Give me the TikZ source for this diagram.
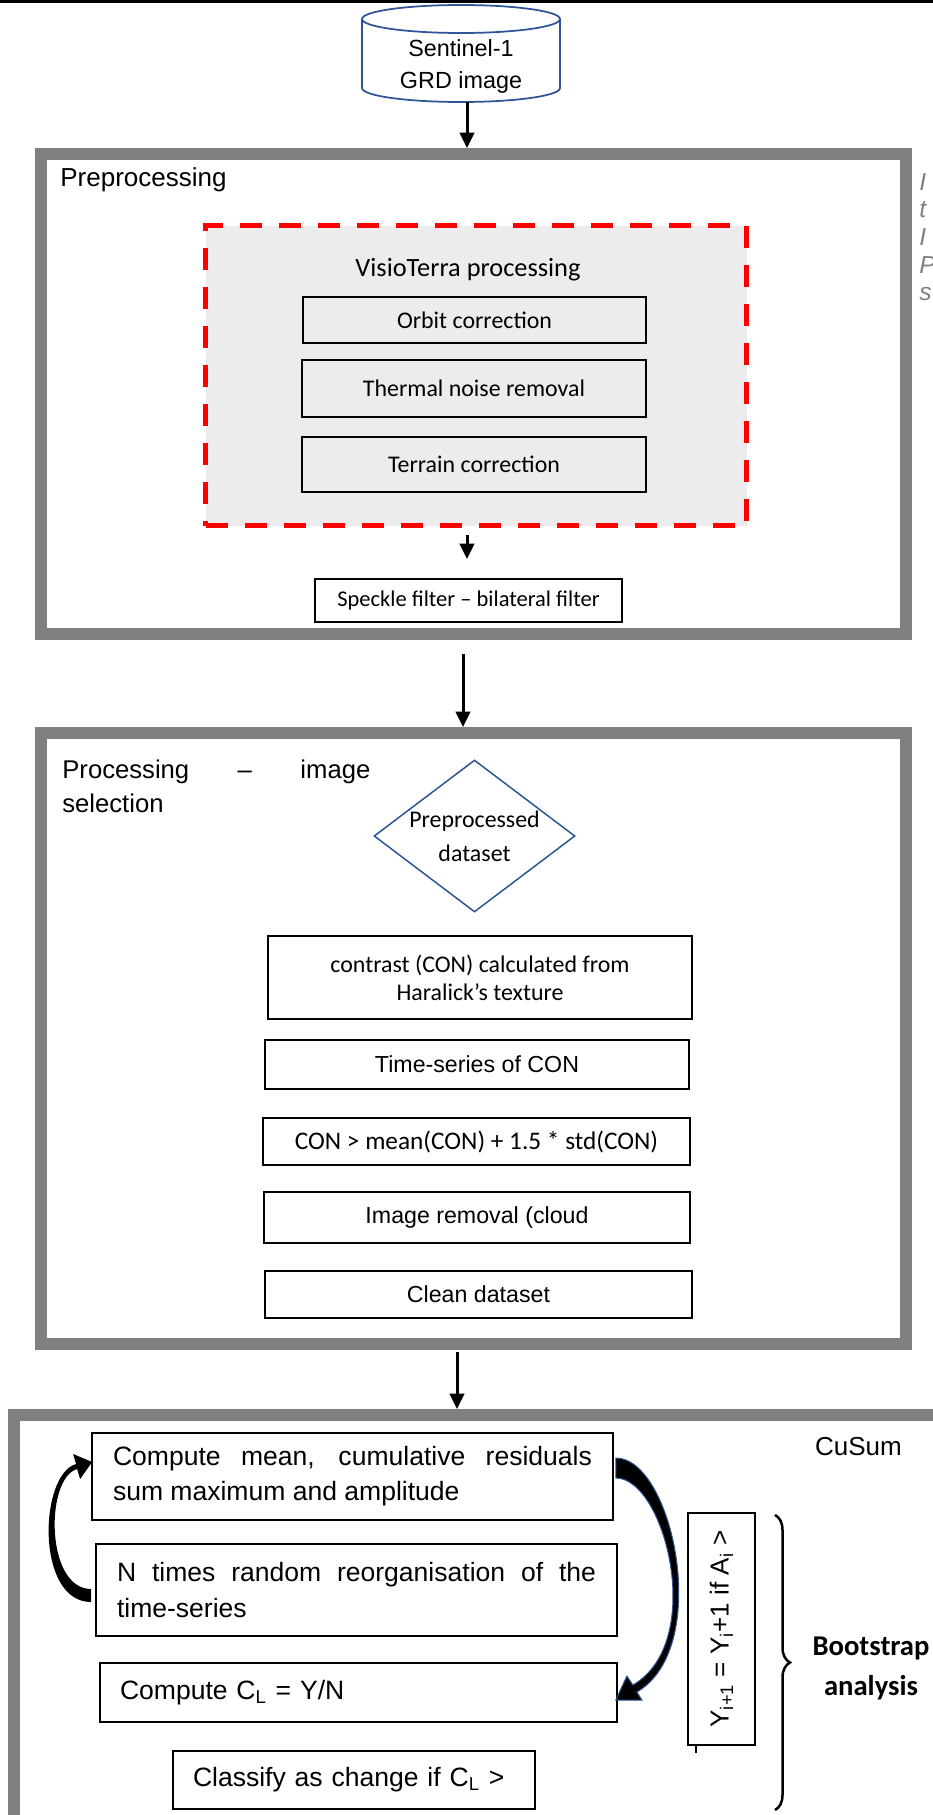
\documentclass[tikz,border=0pt]{standalone}
\usepackage{fontspec}
\setmainfont{Liberation Sans}
\newfontfamily\carlito{Carlito}
\usetikzlibrary{shapes.geometric, arrows.meta, calc, decorations.pathreplacing}
\definecolor{wordblue}{RGB}{47,85,151}
\definecolor{vtgrey}{RGB}{236,236,236}

\begin{document}
\begin{tikzpicture}[>={Triangle[width=0.29cm, length=0.31cm]}]

\tikzstyle stage=[draw=gray, line width=0.24cm, fill=white]
\tikzstyle cyl=[draw=wordblue, line width=0.035cm, fill=white]
\tikzstyle inbox=[draw, line width=0.035cm, font=\carlito\fontsize{13.6}{16}\selectfont]
\tikzstyle arbox=[draw, line width=0.035cm, font=\fontsize{13.2}{16}\selectfont]
\tikzstyle csbox=[draw, line width=0.035cm, font=\fontsize{15.1}{20}\selectfont, inner xsep=0.42cm, align=justify]
\tikzstyle flow=[->, line width=0.06cm]
\tikzstyle larc=[fill=black]
\tikzstyle rarc=[fill=black, draw=wordblue, line width=0.02cm]

\useasboundingbox (0,0) rectangle (18.66,-36.3);
\clip (0,0) rectangle (18.66,-36.3);

\draw [line width=0.06cm] (0,-0.03) -- (18.66,-0.03);

% the three stages
\node (pre) [stage, minimum width=17.3cm, minimum height=9.6cm] at (9.47,-7.88) {};
\node (proc) [stage, minimum width=17.3cm, minimum height=12.22cm] at (9.47,-20.77) {};
\node (cus) [stage, minimum width=19.32cm, minimum height=9.3cm] at (9.94,-32.95) {};

% input image
\draw [cyl] (7.24,-0.38) -- (7.24,-1.76) arc [start angle=180, end angle=360, x radius=1.98, y radius=0.28] -- (11.2,-0.38);
\draw [cyl] (9.22,-0.38) ellipse [x radius=1.98, y radius=0.28];
\node (sen) [align=center, font=\fontsize{13.3}{18.2}\selectfont] at (9.22,-1.32) {Sentinel-1\\GRD image};

% preprocessing
\node (prel) [anchor=base west, inner sep=0, font=\fontsize{14.8}{17}\selectfont] at (1.2,-3.72) {Preprocessing};
\node (cmt) [anchor=north west, inner sep=0, align=left, text=gray, font=\itshape\fontsize{14}{15.7}\selectfont] at (18.38,-3.46) {I\\t\\I\\P\\s};

\node (vt) [draw=red, fill=vtgrey, line width=0.11cm, dash pattern=on 0.44cm off 0.34cm, minimum width=10.82cm, minimum height=6cm] at (9.52,-7.51) {};
\node (vtl) [font=\carlito\fontsize{15}{18}\selectfont] at (9.36,-5.4) {VisioTerra processing};
\node (orb) [inbox, minimum width=6.86cm, minimum height=0.92cm] at (9.49,-6.4) {Orbit correction};
\node (thn) [inbox, minimum width=6.88cm, minimum height=1.14cm] at (9.48,-7.77) {Thermal noise removal};
\node (ter) [inbox, minimum width=6.88cm, minimum height=1.1cm] at (9.48,-9.29) {Terrain correction};
\node (spk) [inbox, font=\carlito\fontsize{12.8}{15}\selectfont, minimum width=6.14cm, minimum height=0.86cm] at (9.37,-12.01) {Speckle filter – bilateral filter};

% processing - image selection
\node (procl) [anchor=north west, inner sep=0, text width=6.16cm, align=justify, font=\fontsize{14.6}{19.3}\selectfont] at (1.24,-15.2) {Processing – image\linebreak selection};
\node (pds) [diamond, aspect=1.32, draw=wordblue, line width=0.03cm, minimum width=4.02cm, minimum height=3.04cm, inner sep=0, align=center, font=\carlito\fontsize{13.6}{19.3}\selectfont] at (9.49,-16.72) {Preprocessed\\dataset};
\node (con) [inbox, minimum width=8.48cm, minimum height=1.66cm, align=center] at (9.6,-19.55) {contrast (CON) calculated from\\Haralick’s texture};
\node (tsc) [arbox, minimum width=8.48cm, minimum height=0.98cm] at (9.54,-21.29) {Time-series of CON};
\node (thr) [inbox, font=\carlito\fontsize{14.4}{17}\selectfont, minimum width=8.54cm, minimum height=0.94cm] at (9.53,-22.83) {CON > mean(CON) + 1.5 * std(CON)};
\node (imr) [arbox, minimum width=8.52cm, minimum height=1.02cm] at (9.54,-24.35) {Image removal (cloud};
\node (cln) [arbox, minimum width=8.54cm, minimum height=0.94cm] at (9.57,-25.89) {Clean dataset};

% cusum
\node (cusl) [font=\fontsize{14.8}{17}\selectfont] at (17.17,-28.94) {CuSum};
\node (cmean) [csbox, text width=9.58cm, minimum height=1.74cm] at (7.05,-29.53) {Compute mean, cumulative residuals\linebreak sum maximum and amplitude};
\node (nrd) [csbox, text width=9.58cm, minimum height=1.84cm] at (7.13,-31.8) {N times random reorganisation of the\linebreak time-series};
\node (ccl) [csbox, align=left, inner xsep=0.4cm, text width=9.54cm, minimum height=1.18cm] at (7.17,-33.85) {Compute C\textsubscript{L} = Y/N};
\node (cls) [csbox, align=left, inner xsep=0.4cm, text width=6.44cm, minimum height=1.16cm] at (7.08,-35.6) {Classify as change if C\textsubscript{L} >};
\node (yrule) [draw, line width=0.035cm, rotate=90, minimum width=4.64cm, minimum height=1.34cm, font=\fontsize{14.8}{17}\selectfont] at (14.43,-32.58) {Y\textsubscript{i+1} = Y\textsubscript{i}+1 if A\textsubscript{i} >};
\node (bsa) [align=center, font=\carlito\bfseries\fontsize{16.3}{22.8}\selectfont] at (17.42,-33.36) {Bootstrap\\analysis};

\coordinate (senb) at (9.34,-2.04);
\coordinate (bt) at (15.5,-30.3);
\coordinate (bb) at (15.5,-36.2);
\coordinate (s2) at (9.34,-11.18);
\coordinate (a2) at (9.26,-13.08);
\coordinate (a3) at (9.14,-27.04);

\draw [flow] (senb) -- (senb |- pre.north);
\draw [flow, shorten <=0.14cm] (vt.south -| s2) -- (s2);
\draw [flow] (a2) -- (a2 |- proc.north);
\draw [flow] (a3) -- (a3 |- cus.north);

\draw [line width=0.05cm] ([xshift=0.18cm]yrule.north west) -- ++(0,-0.14);
\draw [decorate, decoration={brace, amplitude=0.3cm}, line width=0.05cm] (bt) -- (bb);

% loop arrows
\fill [larc] ($(nrd.west)+(-0.08,-0.24)$) .. controls +(-1.12,0) and +(-0.74,-0.2) .. ($(cmean.west)+(-0.3,0.25)$) -- ++(-0.06,0.2) -- ++(0.38,-0.16) -- ++(-0.24,-0.34) -- ++(-0.06,0.2) .. controls +(-0.64,-0.18) and +(-0.92,0) .. ($(nrd.west)+(-0.08,0.02)$) -- cycle;
\filldraw [rarc] ($(cmean.east)+(0.04,0.37)$) .. controls +(1.14,0) and +(1.52,0.88) .. ($(ccl.east)+(0.38,0.01)$) -- ++(0.1,-0.16) -- ++(-0.52,0) -- ++(0.22,0.48) -- ++(0.12,-0.18) .. controls +(1.48,0.86) and +(0.98,0) .. ($(cmean.east)+(0.04,-0.03)$) -- cycle;

\end{tikzpicture}
\end{document}
